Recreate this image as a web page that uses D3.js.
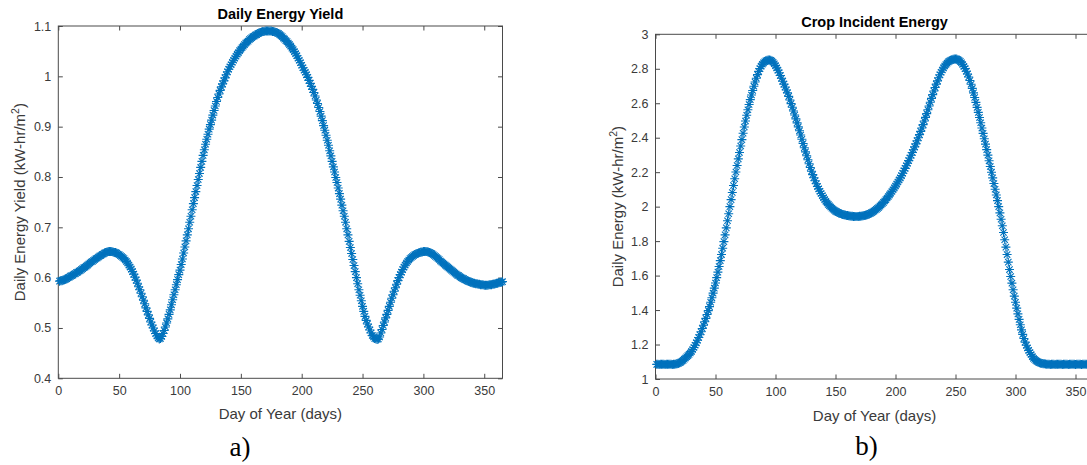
<!DOCTYPE html>
<html>
<head>
<meta charset="utf-8">
<script src="https://cdn.jsdelivr.net/npm/d3@7"></script>
<style>
  html, body { margin: 0; padding: 0; background: #fff; }
  svg { display: block; }
  text { font-family: "Liberation Sans", Arial, sans-serif; }
</style>
</head>
<body>
<svg id="fig" width="1087" height="465"></svg>
<script>
// Day numbers for both series (1..365)
const days = d3.range(1, 366);

// a) Daily energy yield, kW-hr/m^2, one value per day
const dailyYield = [
  0.593,0.594,0.594,0.595,0.596, 0.597,0.598,0.600,0.601,0.603,
  0.604,0.605,0.607,0.608,0.610, 0.611,0.613,0.614,0.616,0.618,
  0.620,0.621,0.623,0.625,0.627, 0.629,0.631,0.632,0.634,0.636,
  0.638,0.639,0.641,0.643,0.644, 0.646,0.647,0.649,0.650,0.651,
  0.652,0.652,0.652,0.652,0.651, 0.650,0.650,0.649,0.647,0.646,
  0.644,0.642,0.640,0.638,0.635, 0.632,0.629,0.625,0.621,0.617,
  0.612,0.607,0.601,0.595,0.589, 0.582,0.576,0.569,0.562,0.555,
  0.548,0.540,0.533,0.526,0.519, 0.512,0.506,0.500,0.494,0.489,
  0.484,0.480,0.478,0.479,0.483, 0.489,0.495,0.502,0.510,0.518,
  0.527,0.536,0.546,0.556,0.566, 0.576,0.586,0.596,0.606,0.615,
  0.626,0.637,0.649,0.661,0.673, 0.685,0.697,0.710,0.722,0.735,
  0.747,0.759,0.771,0.783,0.795, 0.807,0.819,0.831,0.843,0.854,
  0.865,0.875,0.885,0.895,0.904, 0.913,0.923,0.932,0.941,0.950,
  0.958,0.965,0.972,0.979,0.985, 0.991,0.997,1.003,1.009,1.014,
  1.019,1.023,1.028,1.032,1.036, 1.040,1.044,1.047,1.051,1.054,
  1.057,1.060,1.063,1.066,1.068, 1.070,1.073,1.075,1.077,1.079,
  1.080,1.082,1.083,1.085,1.086, 1.087,1.088,1.089,1.089,1.090,
  1.090,1.090,1.090,1.090,1.090, 1.089,1.089,1.088,1.087,1.086,
  1.085,1.083,1.081,1.079,1.076, 1.074,1.071,1.069,1.066,1.063,
  1.060,1.056,1.053,1.049,1.045, 1.041,1.036,1.032,1.027,1.022,
  1.017,1.012,1.008,1.003,0.998, 0.992,0.986,0.980,0.974,0.968,
  0.961,0.953,0.946,0.938,0.930, 0.921,0.912,0.902,0.893,0.883,
  0.873,0.863,0.852,0.842,0.831, 0.820,0.810,0.799,0.789,0.778,
  0.767,0.756,0.744,0.733,0.722, 0.710,0.697,0.685,0.672,0.660,
  0.648,0.636,0.624,0.612,0.600, 0.588,0.576,0.565,0.554,0.543,
  0.533,0.523,0.515,0.508,0.502, 0.496,0.490,0.485,0.482,0.479,
  0.478,0.477,0.478,0.482,0.490, 0.497,0.505,0.512,0.520,0.527,
  0.535,0.543,0.551,0.559,0.566, 0.573,0.580,0.587,0.594,0.600,
  0.606,0.611,0.616,0.621,0.625, 0.629,0.632,0.635,0.638,0.640,
  0.642,0.644,0.646,0.647,0.648, 0.649,0.650,0.651,0.651,0.652,
  0.652,0.652,0.652,0.651,0.650, 0.649,0.648,0.646,0.644,0.642,
  0.640,0.638,0.636,0.633,0.631, 0.629,0.627,0.625,0.623,0.621,
  0.619,0.617,0.615,0.613,0.611, 0.609,0.607,0.605,0.604,0.602,
  0.600,0.599,0.598,0.596,0.595, 0.594,0.593,0.592,0.591,0.590,
  0.589,0.589,0.588,0.588,0.587, 0.587,0.586,0.586,0.586,0.585,
  0.585,0.585,0.585,0.586,0.586, 0.586,0.587,0.587,0.588,0.589,
  0.589,0.590,0.591,0.591,0.592
];

// b) Daily energy incident on the crop, kW-hr/m^2, one value per day
const cropEnergy = [
  1.085,1.085,1.084,1.085,1.086, 1.085,1.085,1.084,1.085,1.085,
  1.086,1.085,1.085,1.084,1.085, 1.086,1.087,1.088,1.090,1.094,
  1.098,1.103,1.108,1.115,1.122, 1.129,1.136,1.143,1.151,1.160,
  1.171,1.183,1.196,1.210,1.225, 1.241,1.257,1.274,1.293,1.312,
  1.332,1.352,1.374,1.397,1.420, 1.445,1.471,1.498,1.527,1.557,
  1.588,1.620,1.653,1.687,1.722, 1.759,1.797,1.836,1.877,1.918,
  1.959,2.000,2.041,2.082,2.123, 2.162,2.201,2.239,2.277,2.314,
  2.352,2.389,2.426,2.462,2.497, 2.530,2.562,2.593,2.621,2.648,
  2.674,2.699,2.723,2.745,2.766, 2.785,2.801,2.815,2.826,2.834,
  2.841,2.846,2.849,2.851,2.851, 2.849,2.845,2.838,2.829,2.818,
  2.805,2.792,2.777,2.761,2.745, 2.728,2.711,2.694,2.677,2.660,
  2.640,2.619,2.598,2.577,2.555, 2.532,2.509,2.486,2.463,2.440,
  2.416,2.391,2.366,2.342,2.318, 2.295,2.272,2.249,2.227,2.205,
  2.186,2.168,2.150,2.133,2.117, 2.103,2.089,2.076,2.064,2.052,
  2.041,2.031,2.021,2.013,2.005, 1.998,1.991,1.985,1.979,1.974,
  1.970,1.966,1.963,1.960,1.957, 1.955,1.953,1.951,1.949,1.948,
  1.947,1.946,1.945,1.944,1.943, 1.943,1.943,1.943,1.943,1.944,
  1.945,1.946,1.947,1.948,1.950, 1.952,1.955,1.958,1.961,1.965,
  1.969,1.974,1.979,1.984,1.990, 1.996,2.003,2.010,2.017,2.025,
  2.033,2.041,2.050,2.059,2.068, 2.078,2.088,2.098,2.109,2.120,
  2.131,2.143,2.155,2.167,2.180, 2.194,2.208,2.222,2.237,2.252,
  2.267,2.282,2.298,2.314,2.330, 2.347,2.364,2.382,2.400,2.418,
  2.437,2.456,2.476,2.497,2.518, 2.540,2.562,2.584,2.606,2.628,
  2.650,2.671,2.691,2.711,2.730, 2.748,2.765,2.780,2.793,2.805,
  2.816,2.825,2.833,2.840,2.845, 2.849,2.852,2.855,2.856,2.857,
  2.856,2.853,2.849,2.843,2.835, 2.825,2.814,2.801,2.786,2.770,
  2.752,2.732,2.710,2.686,2.660, 2.633,2.605,2.576,2.547,2.517,
  2.487,2.456,2.425,2.394,2.363, 2.331,2.299,2.266,2.233,2.200,
  2.167,2.134,2.101,2.068,2.035, 2.000,1.964,1.927,1.889,1.850,
  1.808,1.765,1.722,1.678,1.635, 1.595,1.556,1.518,1.481,1.445,
  1.411,1.378,1.346,1.315,1.285, 1.259,1.235,1.214,1.196,1.180,
  1.166,1.153,1.142,1.130,1.120, 1.113,1.107,1.102,1.098,1.095,
  1.092,1.090,1.089,1.088,1.087, 1.086,1.085,1.085,1.084,1.085,
  1.086,1.085,1.084,1.085,1.085, 1.086,1.085,1.085,1.084,1.085,
  1.085,1.086,1.085,1.084,1.085, 1.085,1.086,1.085,1.085,1.084,
  1.085,1.085,1.086,1.085,1.084, 1.085,1.086,1.085,1.085,1.084,
  1.085,1.085,1.086,1.085,1.085
];

// Tick values
const dayTicks = [0, 50, 100, 150, 200, 250, 300, 350];
const yieldTicks = [0.4, 0.5, 0.6, 0.7, 0.8, 0.9, 1, 1.1];
const cropTicks = [1, 1.2, 1.4, 1.6, 1.8, 2, 2.2, 2.4, 2.6, 2.8, 3];

const svg = d3.select("#fig");
const AXIS = "#4a4a4a";
const TEXT = "#3a3a3a";
const BLUE = "#0072BD";

// Asterisk marker: plus + diagonal cross
const r = 4.5, q = r * 0.707;
const star = `M${-r},0L${r},0M0,${-r}L0,${r}M${-q},${-q}L${q},${q}M${-q},${q}L${q},${-q}`;

function panel(cfg) {
  const x = d3.scaleLinear().domain([0, 365]).range([cfg.left, cfg.right]);
  const y = d3.scaleLinear().domain(cfg.yDomain).range([cfg.bottom, cfg.top]);
  const g = svg.append("g");

  // box
  g.append("rect")
    .attr("x", cfg.left).attr("y", cfg.top)
    .attr("width", cfg.right - cfg.left).attr("height", cfg.bottom - cfg.top)
    .attr("fill", "none").attr("stroke", AXIS).attr("stroke-width", 1);

  // inward ticks on all four sides
  const tl = 4.5;
  const bottomAxis = d3.axisBottom(x).tickValues(dayTicks).tickSize(-tl).tickPadding(8).tickFormat(d3.format("d"));
  const topAxis = d3.axisTop(x).tickValues(dayTicks).tickSize(-tl).tickFormat("");
  const leftAxis = d3.axisLeft(y).tickValues(cfg.yTicks).tickSize(-tl).tickPadding(7).tickFormat(d => String(+d.toFixed(1)));
  const rightAxis = d3.axisRight(y).tickValues(cfg.yTicks).tickSize(-tl).tickFormat("");

  const axes = [
    [bottomAxis, `translate(0,${cfg.bottom})`],
    [topAxis, `translate(0,${cfg.top})`],
    [leftAxis, `translate(${cfg.left},0)`],
    [rightAxis, `translate(${cfg.right},0)`]
  ];
  axes.forEach(([ax, tr]) => {
    const a = g.append("g").attr("transform", tr).call(ax);
    a.select(".domain").remove();
    a.selectAll("line").attr("stroke", AXIS).attr("stroke-width", 1);
    a.selectAll("text").attr("fill", TEXT).style("font-size", "12.5px")
      .style("font-family", '"Liberation Sans", Arial, sans-serif');
  });

  // markers
  g.append("g")
    .selectAll("path")
    .data(cfg.values)
    .join("path")
    .attr("d", star)
    .attr("transform", (v, i) => `translate(${x(days[i])},${y(v)})`)
    .attr("fill", "none")
    .attr("stroke", BLUE)
    .attr("stroke-width", 1.1);

  // title
  const cx = (cfg.left + cfg.right) / 2;
  g.append("text").attr("x", cx).attr("y", cfg.titleY)
    .attr("text-anchor", "middle").attr("font-weight", "bold")
    .attr("fill", "#000").style("font-size", "14.5px").text(cfg.title);

  // x label
  g.append("text").attr("x", cx).attr("y", cfg.xLabelY)
    .attr("text-anchor", "middle").attr("fill", TEXT)
    .style("font-size", "15px").text("Day of Year (days)");

  // y label with superscript
  const cy = (cfg.top + cfg.bottom) / 2;
  const yl = g.append("text")
    .attr("transform", `translate(${cfg.yLabelX},${cy}) rotate(-90)`)
    .attr("text-anchor", "middle").attr("dy", "0.35em")
    .attr("fill", TEXT).style("font-size", "15px");
  yl.append("tspan").text(cfg.yLabel + " (kW-hr/m");
  yl.append("tspan").attr("baseline-shift", "super").style("font-size", "10.5px").text("2");
  yl.append("tspan").text(")");

  // panel letter
  svg.append("text").attr("x", cfg.letterX).attr("y", cfg.letterY)
    .attr("text-anchor", "middle").attr("fill", "#000")
    .style("font-family", '"Liberation Serif", "Times New Roman", serif')
    .style("font-size", "27px").text(cfg.letter);
}

panel({
  left: 58.3, right: 502.5, top: 26, bottom: 378.3,
  yDomain: [0.4, 1.1], yTicks: yieldTicks, values: dailyYield,
  title: "Daily Energy Yield", titleY: 19, xLabelY: 419,
  yLabel: "Daily Energy Yield", yLabelX: 20,
  letter: "a)", letterX: 240, letterY: 456
});

panel({
  left: 655.5, right: 1093.5, top: 34.3, bottom: 379,
  yDomain: [1, 3], yTicks: cropTicks, values: cropEnergy,
  title: "Crop Incident Energy", titleY: 27, xLabelY: 420.5,
  yLabel: "Daily Energy", yLabelX: 618,
  letter: "b)", letterX: 866.5, letterY: 455
});
</script>
</body>
</html>
